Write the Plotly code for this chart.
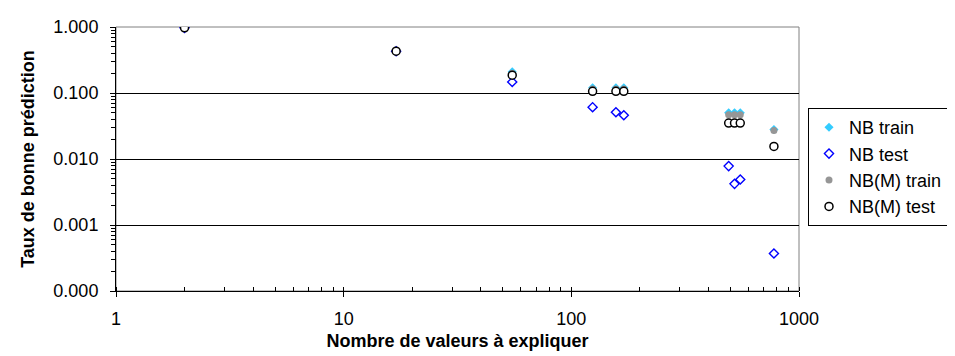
import plotly.graph_objects as go

# number of values to explain
x_vals = [2, 17, 55, 124, 157, 170, 491, 521, 552, 776]
nb_train = [0.97, 0.43, 0.21, 0.12, 0.12, 0.12, 0.05, 0.05, 0.05, 0.028]
nb_test = [0.97, 0.43, 0.147, 0.061, 0.051, 0.046, 0.0078, 0.0042, 0.0049, 0.00037]
nbm_train = [0.97, 0.43, 0.20, 0.115, 0.115, 0.115, 0.047, 0.047, 0.047, 0.027]
nbm_test = [0.97, 0.43, 0.186, 0.106, 0.106, 0.106, 0.035, 0.035, 0.035, 0.0155]

y_tickvals = [1, 0.1, 0.01, 0.001, 0.0001]
y_ticktext = ["1.000", "0.100", "0.010", "0.001", "0.000"]
x_tickvals = [1, 10, 100, 1000]
x_ticktext = ["1", "10", "100", "1000"]

FONT = "Arial, Liberation Sans, sans-serif"

fig = go.Figure()
fig.add_trace(go.Scatter(x=x_vals, y=nb_train, mode="markers", name="NB train",
                         marker=dict(symbol="diamond", size=7, color="#33CCFF",
                                     line=dict(width=0))))
fig.add_trace(go.Scatter(x=x_vals, y=nb_test, mode="markers", name="NB test",
                         marker=dict(symbol="diamond", size=7, color="white",
                                     line=dict(width=1.4, color="#0000FF"))))
fig.add_trace(go.Scatter(x=x_vals, y=nbm_train, mode="markers", name="NB(M) train",
                         marker=dict(symbol="circle", size=7, color="#969696",
                                     line=dict(width=0))))
fig.add_trace(go.Scatter(x=x_vals, y=nbm_test, mode="markers", name="NB(M) test",
                         marker=dict(symbol="circle", size=8, color="white",
                                     line=dict(width=1.5, color="black"))))

fig.update_layout(
    width=955, height=356,
    margin=dict(l=108, r=164, t=19, b=73, autoexpand=False),
    paper_bgcolor="white", plot_bgcolor="white",
    font=dict(family=FONT, size=18, color="black"),
    showlegend=True,
    legend=dict(x=(800 - 108) / 683, y=(283 - 100) / 264, xanchor="left", yanchor="top",
                bgcolor="white", bordercolor="black", borderwidth=1,
                font=dict(family=FONT, size=18, color="black"),
                itemsizing="trace", tracegroupgap=0),
    shapes=[dict(type="rect", xref="paper", yref="paper", x0=0, x1=1, y0=0, y1=1,
                 line=dict(color="#808080", width=1), layer="between")],
)
fig.update_xaxes(type="log", range=[0, 3], tickvals=x_tickvals, ticktext=x_ticktext,
                 ticks="outside", ticklen=5, tickcolor="black",
                 ticklabelstandoff=6,
                 showline=True, linecolor="black", linewidth=1,
                 showgrid=False, zeroline=False,
                 minor=dict(ticks="inside", ticklen=4, tickcolor="black",
                            dtick="D1", showgrid=False),
                 tickfont=dict(family=FONT, size=18),
                 title=dict(text="<b>Nombre de valeurs à expliquer</b>",
                            font=dict(family=FONT, size=18), standoff=6))
fig.update_yaxes(type="log", range=[-4, 0], tickvals=y_tickvals, ticktext=y_ticktext,
                 ticks="outside", ticklen=5, tickcolor="black",
                 ticklabelstandoff=8,
                 showline=True, linecolor="black", linewidth=1,
                 showgrid=True, gridcolor="black", gridwidth=1, zeroline=False,
                 minor=dict(ticks="outside", ticklen=4, tickcolor="black",
                            dtick="D1", showgrid=False),
                 tickfont=dict(family=FONT, size=18),
                 title=dict(text="<b>Taux de bonne prédiction</b>",
                            font=dict(family=FONT, size=18), standoff=14))

fig.write_html("out.html")
